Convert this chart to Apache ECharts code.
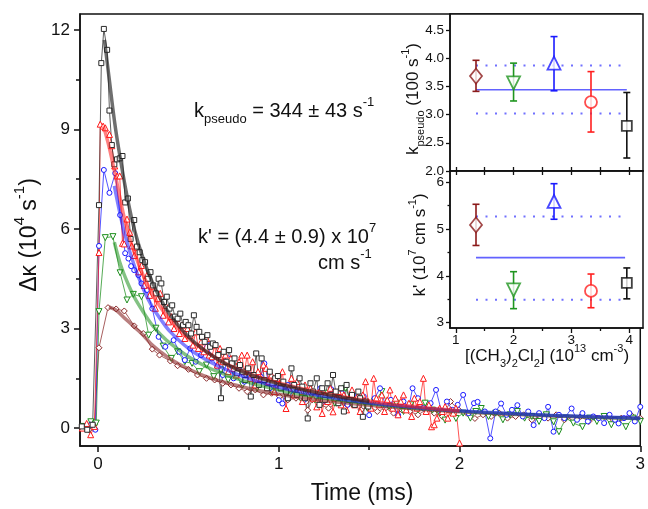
<!DOCTYPE html>
<html><head><meta charset="utf-8">
<script src="https://cdn.jsdelivr.net/npm/echarts@6/dist/echarts.min.js"></script>
<style>html,body{margin:0;padding:0;background:#fff}#c{width:648px;height:509px}</style>
</head><body><div id="c"></div>
<script>
const FONT = '"Liberation Sans", Arial, sans-serif';

// ---------- main panel: time (ms) vs delta kappa (10^4 s^-1) ----------
const mainXTicks = [0, 1, 2, 3];
const mainXMinor = [0.5, 1.5, 2.5];
const mainYTicks = [0, 3, 6, 9, 12];
const mainYMinor = [1.5, 4.5, 7.5, 10.5];

const blackData = [[-0.09,0.05],[-0.06,-0.05],[-0.03,0.1],[0.005,6.72],[0.018,11.0],[0.032,12.03],[0.05,11.4],[0.063,9.57],[0.076,8.53],[0.09,7.95],[0.105,8.1],[0.12,8.13],[0.135,8.2],[0.15,6.8],[0.165,6.92],[0.18,5.7],[0.2,6.27],[0.215,5.47],[0.23,5.3],[0.245,5.06],[0.26,5.0],[0.275,4.5],[0.29,4.7],[0.305,4.3],[0.32,4.06],[0.335,4.5],[0.35,4.36],[0.365,3.8],[0.38,3.96],[0.395,3.6],[0.41,3.7],[0.425,3.36],[0.44,3.3],[0.455,3.45],[0.47,3.1],[0.485,3.2],[0.5,3.1],[0.515,2.85],[0.53,3.4],[0.545,3.05],[0.56,2.9],[0.575,2.75],[0.59,2.6],[0.605,2.8],[0.62,2.45],[0.635,2.55],[0.65,2.5],[0.665,2.2],[0.68,0.9],[0.695,2.3],[0.71,2.0],[0.725,2.35],[0.74,1.95],[0.755,2.1],[0.77,1.65],[0.785,1.9],[0.8,1.7],[0.815,1.45],[0.83,1.8],[0.845,0.95],[0.86,1.6],[0.875,2.25],[0.89,1.3],[0.905,2.1],[0.92,1.45],[0.935,1.2],[0.95,1.7],[0.965,1.35],[0.98,1.5],[0.995,1.57],[1.01,1.2],[1.025,1.4],[1.04,1.1],[1.05,0.9],[1.07,1.8],[1.085,1.3],[1.1,1.0],[1.115,1.5],[1.13,1.25],[1.145,0.9],[1.16,0.29],[1.175,1.35],[1.19,1.1],[1.21,1.5],[1.225,0.7],[1.24,1.2],[1.255,0.85],[1.27,1.35],[1.285,1.0],[1.3,1.6],[1.315,1.1],[1.33,0.75],[1.345,1.2],[1.36,0.5],[1.375,1.3],[1.39,0.85],[1.405,1.0],[1.42,0.7],[1.44,1.1],[1.45,0.9],[1.465,0.34],[1.48,0.8],[1.495,0.65]];

const redData = [[-0.087,0.0],[-0.063,0.14],[-0.041,-0.2],[-0.02,0.05],[0.005,5.29],[0.012,9.16],[0.028,9.1],[0.04,9.05],[0.063,8.85],[0.076,8.51],[0.092,7.9],[0.105,7.6],[0.12,7.6],[0.135,5.57],[0.145,5.55],[0.16,6.3],[0.175,5.9],[0.186,5.49],[0.2,5.2],[0.215,5.45],[0.225,4.71],[0.24,4.9],[0.255,4.3],[0.27,4.6],[0.285,4.0],[0.3,4.28],[0.317,3.61],[0.33,3.9],[0.344,4.06],[0.36,3.4],[0.375,3.7],[0.39,3.2],[0.405,3.36],[0.42,3.0],[0.435,3.3],[0.45,2.85],[0.465,3.1],[0.48,2.7],[0.495,3.0],[0.51,2.8],[0.525,2.5],[0.54,2.9],[0.555,2.4],[0.57,2.6],[0.585,2.3],[0.6,2.7],[0.615,2.2],[0.63,2.15],[0.645,2.5],[0.66,1.9],[0.675,2.4],[0.69,2.0],[0.705,2.2],[0.72,1.7],[0.735,2.1],[0.75,1.8],[0.765,1.6],[0.78,2.0],[0.795,2.2],[0.81,1.7],[0.825,2.2],[0.84,1.5],[0.855,2.0],[0.87,1.3],[0.885,1.7],[0.9,1.5],[0.915,1.9],[0.93,1.8],[0.945,1.4],[0.96,1.6],[0.975,1.1],[0.99,1.5],[1.005,1.3],[1.02,1.7],[1.04,0.59],[1.055,1.2],[1.07,1.5],[1.085,1.0],[1.1,1.4],[1.115,1.1],[1.13,0.8],[1.145,1.3],[1.16,1.0],[1.175,1.2],[1.19,0.9],[1.21,0.64],[1.225,1.1],[1.24,0.44],[1.255,1.0],[1.27,0.8],[1.285,1.2],[1.3,0.49],[1.315,0.9],[1.33,1.1],[1.345,0.7],[1.36,1.0],[1.375,0.55],[1.39,0.9],[1.405,1.15],[1.42,0.7],[1.435,0.95],[1.45,0.5],[1.465,1.0],[1.48,1.4],[1.495,0.8],[1.51,0.6],[1.525,1.5],[1.54,0.9],[1.555,0.7],[1.57,1.0],[1.585,0.5],[1.6,0.85],[1.615,1.15],[1.63,0.6],[1.645,0.9],[1.66,0.4],[1.675,0.8],[1.69,1.0],[1.705,0.55],[1.72,0.75],[1.735,0.35],[1.75,0.9],[1.765,0.6],[1.78,0.8],[1.8,1.5],[1.815,0.5],[1.83,0.7],[1.845,0.04],[1.86,0.1],[1.875,0.3],[1.89,0.6],[1.905,0.5],[1.92,0.65],[1.935,0.3],[1.95,0.55],[1.965,0.45],[1.98,0.6],[2.0,-0.45]];

const blueData = [[-0.07,0.05],[-0.04,0.1],[-0.015,-0.05],[0.005,5.49],[0.032,7.78],[0.063,7.09],[0.095,7.68],[0.122,6.42],[0.15,5.27],[0.168,5.11],[0.183,4.88],[0.2,4.76],[0.223,4.61],[0.24,4.36],[0.27,4.16],[0.3,3.6],[0.335,2.75],[0.372,2.45],[0.418,2.65],[0.45,2.3],[0.48,2.05],[0.51,2.4],[0.54,2.0],[0.57,2.2],[0.6,2.6],[0.63,2.1],[0.66,1.85],[0.69,1.6],[0.72,2.1],[0.75,1.5],[0.78,1.75],[0.81,1.4],[0.84,1.6],[0.87,1.3],[0.9,1.55],[0.92,1.95],[0.95,1.2],[0.975,1.35],[1.0,0.84],[1.02,0.74],[1.05,1.3],[1.08,1.0],[1.11,1.25],[1.14,0.85],[1.17,1.1],[1.2,0.95],[1.23,1.2],[1.26,0.8],[1.29,1.17],[1.32,0.9],[1.35,1.05],[1.38,0.7],[1.41,1.0],[1.44,0.8],[1.47,0.95],[1.5,0.39],[1.53,0.9],[1.56,1.2],[1.59,0.7],[1.62,0.85],[1.66,0.39],[1.69,0.8],[1.72,0.65],[1.74,1.2],[1.77,0.9],[1.8,0.6],[1.84,0.75],[1.87,1.15],[1.9,0.5],[1.93,0.8],[1.96,0.55],[1.99,0.7],[2.02,1.0],[2.05,0.45],[2.08,0.75],[2.1,0.79],[2.14,0.5],[2.17,-0.31],[2.2,0.5],[2.23,0.74],[2.26,0.4],[2.29,0.55],[2.32,0.69],[2.35,0.35],[2.38,0.5],[2.41,0.09],[2.44,0.45],[2.47,0.3],[2.49,0.64],[2.52,-0.11],[2.55,0.4],[2.58,0.3],[2.62,0.59],[2.65,0.25],[2.68,0.45],[2.71,0.2],[2.74,0.35],[2.77,0.3],[2.8,0.15],[2.83,0.4],[2.86,0.25],[2.88,0.14],[2.91,0.3],[2.94,0.45],[2.97,0.2],[3.0,0.64]];

const greenData = [[-0.08,0.05],[-0.04,0.19],[-0.01,0.15],[0.005,3.51],[0.04,5.74],[0.082,5.77],[0.122,4.68],[0.16,3.86],[0.195,4.03],[0.24,3.96],[0.28,2.8],[0.32,3.01],[0.36,2.47],[0.405,2.1],[0.44,2.3],[0.48,2.0],[0.52,1.95],[0.56,1.7],[0.6,1.9],[0.64,1.55],[0.68,1.75],[0.72,1.45],[0.76,1.6],[0.8,1.3],[0.84,1.5],[0.88,1.2],[0.92,1.4],[0.96,1.1],[1.0,1.25],[1.04,1.0],[1.08,1.15],[1.12,0.9],[1.16,1.05],[1.2,0.85],[1.24,0.95],[1.27,1.05],[1.31,0.75],[1.34,0.9],[1.37,1.2],[1.41,0.7],[1.45,0.85],[1.49,0.6],[1.53,0.8],[1.57,1.1],[1.61,0.65],[1.65,0.75],[1.69,0.5],[1.73,0.7],[1.77,0.55],[1.81,0.75],[1.85,0.54],[1.89,0.45],[1.92,0.24],[1.96,0.5],[1.98,0.29],[2.02,0.45],[2.06,0.3],[2.09,0.5],[2.12,0.59],[2.16,0.35],[2.2,0.45],[2.24,0.25],[2.28,0.4],[2.32,0.5],[2.36,0.3],[2.4,0.35],[2.44,0.2],[2.48,0.4],[2.52,0.19],[2.55,-0.11],[2.59,0.3],[2.63,0.15],[2.68,0.04],[2.72,0.3],[2.76,0.2],[2.8,0.35],[2.84,0.1],[2.88,0.25],[2.92,0.04],[2.96,0.3],[3.0,0.2]];

const brownData = [[-0.08,0.02],[-0.05,-0.05],[-0.02,0.1],[0.005,2.42],[0.055,3.63],[0.1,3.59],[0.145,3.53],[0.2,3.08],[0.25,2.85],[0.3,2.38],[0.34,2.2],[0.4,2.02],[0.44,1.88],[0.5,1.77],[0.55,1.6],[0.6,1.5],[0.645,1.45],[0.69,1.35],[0.735,1.3],[0.78,1.2],[0.825,1.1],[0.87,1.15],[0.915,1.0],[0.96,1.05],[1.005,0.95],[1.05,0.85],[1.095,0.9],[1.15,0.79],[1.16,0.54],[1.185,0.85],[1.23,0.7],[1.275,0.6],[1.32,0.75],[1.365,0.6],[1.41,0.7],[1.455,0.55],[1.5,0.65],[1.545,0.5],[1.59,0.6],[1.635,0.45],[1.68,0.55],[1.725,0.5],[1.77,0.4],[1.815,0.55],[1.86,0.45],[1.905,0.35],[1.95,0.8],[1.995,0.55],[2.04,0.45],[2.085,0.29],[2.13,0.4],[2.175,0.35],[2.22,0.45],[2.265,0.3],[2.31,0.35],[2.355,0.4],[2.4,0.25],[2.445,0.35],[2.49,0.3],[2.535,0.4],[2.58,0.25],[2.625,0.3],[2.67,0.35],[2.715,0.2],[2.76,0.3],[2.805,0.35],[2.85,0.25],[2.895,0.3],[2.95,0.39],[3.0,0.3]];

// fitted decay curves
const blackFit = [[0.035,11.7],[0.06,10.6],[0.08,9.7],[0.1,8.9],[0.13,7.9],[0.16,7.0],[0.2,6.0],[0.25,5.1],[0.3,4.4],[0.35,3.85],[0.4,3.4],[0.5,2.75],[0.6,2.3],[0.7,1.95],[0.8,1.7],[0.9,1.5],[1.0,1.33],[1.1,1.2],[1.2,1.08],[1.3,0.98],[1.4,0.88],[1.5,0.8]];
const redFit = [[0.03,9.1],[0.06,8.5],[0.1,7.5],[0.13,6.7],[0.16,6.0],[0.2,5.3],[0.25,4.6],[0.3,4.05],[0.35,3.6],[0.4,3.25],[0.5,2.7],[0.6,2.3],[0.7,1.97],[0.8,1.72],[0.9,1.52],[1.0,1.36],[1.2,1.1],[1.4,0.9],[1.6,0.74],[1.8,0.62],[2.0,0.52]];
const blueFit = [[0.09,7.3],[0.12,6.5],[0.15,5.8],[0.2,4.9],[0.25,4.2],[0.3,3.65],[0.35,3.25],[0.4,2.9],[0.5,2.4],[0.6,2.05],[0.7,1.78],[0.8,1.56],[0.9,1.38],[1.0,1.23],[1.2,1.0],[1.4,0.83],[1.6,0.7],[1.8,0.6],[2.0,0.52],[2.25,0.45],[2.5,0.39],[2.75,0.34],[3.0,0.3]];
const greenFit = [[0.09,5.6],[0.12,5.0],[0.15,4.55],[0.2,3.95],[0.25,3.5],[0.3,3.1],[0.35,2.8],[0.4,2.55],[0.5,2.15],[0.6,1.85],[0.7,1.62],[0.8,1.43],[0.9,1.28],[1.0,1.15],[1.2,0.95],[1.4,0.8],[1.6,0.68],[1.8,0.58],[2.0,0.51],[2.25,0.44],[2.5,0.38],[2.75,0.33],[3.0,0.29]];
const brownFit = [[0.06,3.65],[0.1,3.55],[0.15,3.3],[0.2,3.05],[0.25,2.8],[0.3,2.5],[0.35,2.28],[0.4,2.08],[0.45,1.92],[0.5,1.78],[0.6,1.55],[0.7,1.38],[0.8,1.24],[0.9,1.12],[1.0,1.02],[1.2,0.86],[1.4,0.74],[1.6,0.64],[1.8,0.56],[2.0,0.49],[2.5,0.37],[3.0,0.29]];

// ---------- inset ----------
const insetConc = [1.35, 2.0, 2.7, 3.34, 3.96];
const kpseudo = [3.68, 3.56, 3.91, 3.22, 2.80];
const kpseudoLo = [3.41, 3.24, 3.42, 2.69, 2.23];
const kpseudoHi = [3.96, 3.91, 4.38, 3.76, 3.39];
const kprime = [5.09, 3.70, 5.59, 3.68, 3.85];
const kprimeLo = [4.65, 3.30, 5.21, 3.32, 3.51];
const kprimeHi = [5.53, 4.09, 5.97, 4.04, 4.17];
const kpseudoMean = 3.44, kpseudoBand = [3.87, 3.02];
const kprimeMean = 4.39, kprimeBand = [5.27, 3.49];
const insetLineX = [1.35, 3.96];
const insetLineX2 = [1.35, 3.93];
const insetXTicks = [1, 2, 3, 4];
const insetXMinor = [1.5, 2.5, 3.5];
const insetXAll = [1, 1.5, 2, 2.5, 3, 3.5, 4];
const kpTicks = [2.0, 2.5, 3.0, 3.5, 4.0, 4.5];
const kprTicks = [3, 4, 5, 6];
const kprMinor = [3.5, 4.5, 5.5];

const insetColors = ['#8b1a1a', '#1f951f', '#1a1aff', '#ff2020', '#111111'];
const insetSymbols = ['diamond', 'triangle', 'triangle', 'circle', 'rect'];
const insetRot = [0, 180, 0, 0, 0];
const insetSizes = [[12,15], 13, 13, 12, 10];

const C = {black:'#2a2a2a', red:'#ff1a1a', blue:'#1a1aff', green:'#1e8f1e', brown:'#8b2a2a'};

const chart = echarts.init(document.getElementById('c'), null, {renderer:'canvas'});

function dataSeries(pts, color, symbol, rot, size, z) {
  return {type:'line', xAxisIndex:0, yAxisIndex:0, data:pts, symbol:symbol, symbolRotate:rot, symbolSize:size,
    showSymbol:true, silent:true, z:z,
    lineStyle:{color:color, width:1, opacity:0.75},
    itemStyle:{color:'#fff', borderColor:color, borderWidth:1}};
}
function fitSeries(pts, color, op) {
  return {type:'line', xAxisIndex:0, yAxisIndex:0, data:pts, smooth:0.35, symbol:'none', silent:true, z:6,
    lineStyle:{color:color, width:3.5, opacity:op}};
}
function hLine(xs, y, xi, yi, style) {
  return {type:'line', xAxisIndex:xi, yAxisIndex:yi, data:[[xs[0],y],[xs[1],y]], symbol:'none', silent:true, z:3, lineStyle:style};
}
function errSeries(lo, hi, xi, yi) {
  return {type:'custom', xAxisIndex:xi, yAxisIndex:yi, silent:true, z:4,
    data: insetConc.map((x,i)=>[x, lo[i], hi[i]]),
    encode:{x:0, y:[1,2]},
    renderItem:function(params, api){
      const c = insetColors[params.dataIndex];
      const a = api.coord([api.value(0), api.value(1)]);
      const b = api.coord([api.value(0), api.value(2)]);
      const w = 3.5, st = {stroke:c, lineWidth:1.6};
      return {type:'group', children:[
        {type:'line', shape:{x1:a[0],y1:a[1],x2:b[0],y2:b[1]}, style:st},
        {type:'line', shape:{x1:a[0]-w,y1:a[1],x2:a[0]+w,y2:a[1]}, style:st},
        {type:'line', shape:{x1:b[0]-w,y1:b[1],x2:b[0]+w,y2:b[1]}, style:st}
      ]};
    }};
}
function insetPoints(vals, xi, yi) {
  return {type:'scatter', xAxisIndex:xi, yAxisIndex:yi, silent:true, z:5,
    data: insetConc.map((x,i)=>({value:[x, vals[i]], symbol:insetSymbols[i], symbolRotate:insetRot[i], symbolSize:insetSizes[i],
      itemStyle:{color:'#fff', borderColor:insetColors[i], borderWidth:1.8}}))};
}

const axisLineStyle = {onZero:false, lineStyle:{color:'#111', width:1.5}};
const noLine = {show:false, onZero:false};
const lbl = (size, extra) => Object.assign({color:'#111', fontFamily:FONT, fontSize:size}, extra||{});

const dotted = {color:'#7070ff', width:2, type:[2,7.5]};
const solid = {color:'#6262ff', width:1.6};

const option = {
  animation:false,
  backgroundColor:'#fff',
  grid:[
    {left:80, top:14, width:563, height:432, show:true, borderColor:'#111', borderWidth:1.5, backgroundColor:'transparent'},
    {left:450, top:14, width:193, height:157, show:true, borderColor:'#111', borderWidth:1.5, backgroundColor:'#fff'},
    {left:450, top:171, width:193, height:157, show:true, borderColor:'#111', borderWidth:1.5, backgroundColor:'#fff'}
  ],
  xAxis:[
    {type:'value', gridIndex:0, min:-0.1, max:3.0, position:'bottom', axisLine:axisLineStyle, splitLine:{show:false},
      axisTick:{customValues:mainXTicks, length:6, lineStyle:{color:'#111', width:1.5}},
      axisLabel:lbl(17, {customValues:mainXTicks, margin:10})},
    {type:'value', gridIndex:0, min:-0.1, max:3.0, position:'bottom', axisLine:noLine, splitLine:{show:false},
      axisTick:{customValues:mainXMinor, length:4, lineStyle:{color:'#111', width:1.5}}, axisLabel:{show:false}},
    {type:'value', gridIndex:1, min:0.9, max:4.24, position:'bottom', axisLine:axisLineStyle, splitLine:{show:false},
      axisTick:{customValues:insetXAll, length:4, lineStyle:{color:'#111', width:1.3}}, axisLabel:{show:false}},
    {type:'value', gridIndex:1, min:0.9, max:4.24, position:'bottom', axisLine:noLine, splitLine:{show:false},
      axisTick:{customValues:insetXAll, length:4, inside:true, lineStyle:{color:'#111', width:1.3}}, axisLabel:{show:false}},
    {type:'value', gridIndex:2, min:0.9, max:4.24, position:'bottom', axisLine:axisLineStyle, splitLine:{show:false},
      axisTick:{customValues:insetXTicks, length:5, lineStyle:{color:'#111', width:1.3}},
      axisLabel:lbl(13.5, {customValues:insetXTicks, margin:5})},
    {type:'value', gridIndex:2, min:0.9, max:4.24, position:'bottom', axisLine:noLine, splitLine:{show:false},
      axisTick:{customValues:insetXMinor, length:3, lineStyle:{color:'#111', width:1.3}}, axisLabel:{show:false}}
  ],
  yAxis:[
    {type:'value', gridIndex:0, min:-0.54, max:12.48, position:'left', axisLine:axisLineStyle, splitLine:{show:false},
      axisTick:{customValues:mainYTicks, length:6, lineStyle:{color:'#111', width:1.5}},
      axisLabel:lbl(17, {customValues:mainYTicks, margin:10})},
    {type:'value', gridIndex:0, min:-0.54, max:12.48, position:'left', axisLine:noLine, splitLine:{show:false},
      axisTick:{customValues:mainYMinor, length:4, lineStyle:{color:'#111', width:1.5}}, axisLabel:{show:false}},
    {type:'value', gridIndex:1, min:2.0, max:4.78, position:'left', axisLine:axisLineStyle, splitLine:{show:false},
      axisTick:{customValues:kpTicks, length:4, lineStyle:{color:'#111', width:1.3}},
      axisLabel:lbl(13.5, {customValues:kpTicks, margin:6, formatter:v=>v.toFixed(1)})},
    {type:'value', gridIndex:2, min:2.887, max:6.241, position:'left', axisLine:axisLineStyle, splitLine:{show:false},
      axisTick:{customValues:kprTicks, length:4, lineStyle:{color:'#111', width:1.3}},
      axisLabel:lbl(13.5, {customValues:kprTicks, margin:6})},
    {type:'value', gridIndex:2, min:2.887, max:6.241, position:'left', axisLine:noLine, splitLine:{show:false},
      axisTick:{customValues:kprMinor, length:2.5, lineStyle:{color:'#111', width:1.3}}, axisLabel:{show:false}}
  ],
  series:[
    dataSeries(brownData, C.brown, 'diamond', 0, 6, 2),
    dataSeries(greenData, C.green, 'triangle', 180, 6, 2),
    dataSeries(blueData, C.blue, 'circle', 0, 5, 2),
    dataSeries(redData, C.red, 'triangle', 0, 6, 2),
    dataSeries(blackData, C.black, 'rect', 0, 5, 2),
    fitSeries(brownFit, C.brown, 0.6),
    fitSeries(greenFit, C.green, 0.55),
    fitSeries(blueFit, C.blue, 0.55),
    fitSeries(redFit, C.red, 0.55),
    fitSeries(blackFit, '#222', 0.65),
    hLine(insetLineX, kpseudoMean, 2, 2, solid),
    hLine(insetLineX, kpseudoBand[0], 2, 2, dotted),
    hLine(insetLineX, kpseudoBand[1], 2, 2, dotted),
    hLine(insetLineX2, kprimeMean, 4, 3, solid),
    hLine(insetLineX2, kprimeBand[0], 4, 3, dotted),
    hLine(insetLineX2, kprimeBand[1], 4, 3, dotted),
    errSeries(kpseudoLo, kpseudoHi, 2, 2),
    errSeries(kprimeLo, kprimeHi, 4, 3),
    insetPoints(kpseudo, 2, 2),
    insetPoints(kprime, 4, 3)
  ]
};

function richStyles(f) {
  return {
    b:{fontSize:f, fontFamily:FONT, fill:'#111', lineHeight:Math.round(f*1.5)},
    sup:{fontSize:Math.round(f*0.64), fontFamily:FONT, fill:'#111', lineHeight:Math.round(f*1.0), verticalAlign:'top'},
    sub:{fontSize:Math.round(f*0.66), fontFamily:FONT, fill:'#111', lineHeight:Math.round(f*0.7), verticalAlign:'bottom'}
  };
}
function txt(x, y, text, f, opts) {
  const o = opts || {};
  return {type:'text', x:x, y:y, rotation:o.rot||0, z:100, silent:true,
    style:{text:text, rich:richStyles(f), align:o.align||'left', verticalAlign:o.va||'top', fontFamily:FONT, fontSize:f, fill:'#111'}};
}

option.graphic = [
  txt(194, 96, '{b|k}{sub|pseudo}{b| = 344 ± 43 s}{sup|-1}', 20),
  txt(198, 222, '{b|k\' = (4.4 ± 0.9) x 10}{sup|7}', 20),
  txt(318, 248, '{b|cm s}{sup|-1}', 20),
  txt(30, 235, '{b|Δκ (10}{sup|4}{b| s}{sup|-1}{b|)}', 23, {rot:Math.PI/2, align:'center', va:'middle'}),
  txt(362, 494, '{b|Time (ms)}', 23, {align:'center', va:'middle'}),
  txt(413, 99, '{b|k}{sub|pseudo}{b| (100 s}{sup|-1}{b|)}', 17, {rot:Math.PI/2, align:'center', va:'middle'}),
  txt(420, 245, '{b|k\' (10}{sup|7}{b| cm s}{sup|-1}{b|)}', 17, {rot:Math.PI/2, align:'center', va:'middle'}),
  txt(547, 356, '{b|[(CH}{sub|3}{b|)}{sub|2}{b|Cl}{sub|2}{b|] (10}{sup|13}{b| cm}{sup|-3}{b|)}', 17, {align:'center', va:'middle'})
];

chart.setOption(option);
</script></body></html>
